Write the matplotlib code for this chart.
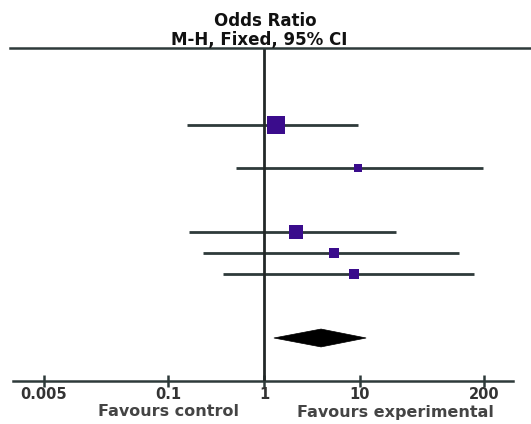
import matplotlib
matplotlib.use("Agg")
import matplotlib.pyplot as plt
from matplotlib.patches import Polygon
from matplotlib.lines import Line2D
import numpy as np

# ---- data ----
row_pos = [0, 2, 5, 6, 7]
odds_ratio = [1.34, 9.6, 2.14, 5.35, 8.65]
ci_low = [0.156, 0.51, 0.164, 0.23, 0.37]
ci_high = [9.6, 196, 24, 110, 158]
weights = [40, 8, 25, 12, 12]

pooled_pos = 10
pooled_or = 3.95
pooled_low = 1.27
pooled_high = 11.7

tick_vals = [0.005, 0.1, 1, 10, 200]
tick_labels = ["0.005", "0.1", "1", "10", "200"]

line_col = "#2e3a3a"
sq_col = "#3a0c8c"

fig = plt.figure(figsize=(5.31, 4.24), dpi=100)
ax = fig.add_axes([13/531, 1 - 381/424, 500/531, (381 - 48)/424])
ax.set_xscale("log")
ax.set_xlim(10**((13 - 264)/95.6), 10**((513 - 264)/95.6))
ax.set_ylim(12.02, -3.62)

for y, o, lo, hi, w in zip(row_pos, odds_ratio, ci_low, ci_high, weights):
    ax.plot([lo, hi], [y, y], color=line_col, lw=2.0, solid_capstyle="butt", zorder=2)
    ax.plot([o], [y], marker="s", color=sq_col, markersize=np.sqrt(w) * 2.0,
            markeredgewidth=0, zorder=4)

h = 0.42
diamond = Polygon([[pooled_low, pooled_pos], [pooled_or, pooled_pos - h],
                   [pooled_high, pooled_pos], [pooled_or, pooled_pos + h]],
                  closed=True, facecolor="black", edgecolor="black", lw=0.5, zorder=4)
ax.add_patch(diamond)

ax.axvline(1, color="#222828", lw=2.0, zorder=3)

for s in ["top", "right", "left"]:
    ax.spines[s].set_visible(False)
ax.spines["bottom"].set_color(line_col)
ax.spines["bottom"].set_linewidth(1.8)
ax.set_yticks([])
ax.set_xticks(tick_vals)
ax.set_xticklabels(tick_labels)
ax.xaxis.set_minor_locator(matplotlib.ticker.NullLocator())
ax.tick_params(axis="x", direction="inout", length=9, width=1.8, color=line_col,
               pad=0, labelsize=10.5, labelcolor="#333333")
for t in ax.get_xticklabels():
    t.set_fontweight("bold")

# top line spanning figure
fig.add_artist(Line2D([10/531, 1], [1 - 48/424, 1 - 48/424], color=line_col, lw=1.8,
                      transform=fig.transFigure))

fig.text(265/531, 1 - 21/424, "Odds Ratio", ha="center", va="center",
         fontsize=12, fontweight="bold", color="#111111")
fig.text(259/531, 1 - 40/424, "M-H, Fixed, 95% CI", ha="center", va="center",
         fontsize=12, fontweight="bold", color="#111111")

fig.text(168/531, 1 - 412/424, "Favours control", ha="center", va="center",
         fontsize=11.5, fontweight="bold", color="#444444")
fig.text(395/531, 1 - 412/424, "Favours experimental", ha="center", va="center",
         fontsize=11.5, fontweight="bold", color="#444444")

fig.savefig("out.png", dpi=100)
